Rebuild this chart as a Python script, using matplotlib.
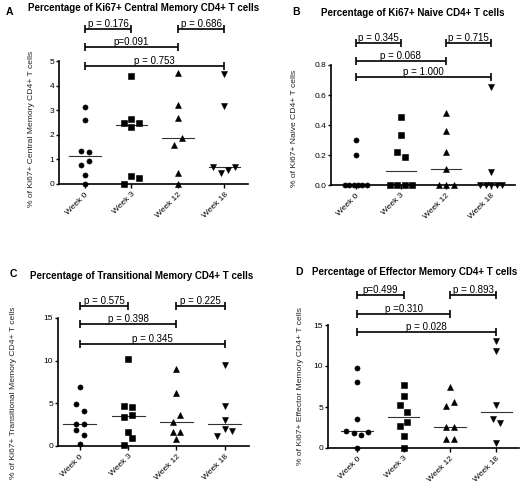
import numpy as np
import matplotlib
matplotlib.use('Agg')
import matplotlib.pyplot as plt

plt.rcParams['font.family'] = ['Liberation Sans', 'DejaVu Sans']

W, H = 523, 488

WEEKS = ['Week 0', 'Week 3', 'Week 12', 'Week 18']
MARKERS = ['o', 's', '^', 'v']

# A: % Ki67+ central memory CD4+ T cells
CM_W0 = [3.13, 2.60, 1.35, 1.31, 0.76, 0.95, 0.36, 0.0]
CM_W3 = [4.39, 2.66, 2.48, 2.31, 2.49, 0.02, 0.32, 0.26]
CM_W12 = [4.52, 3.23, 2.70, 1.58, 1.86, 0.43, 0.0]
CM_W18 = [4.47, 3.18, 0.68, 0.45, 0.57, 0.70]
CM_P = ['p = 0.176', 'p = 0.686', 'p=0.091', 'p = 0.753']
CM_P_Y = [6.29, 6.29, 5.58, 4.80]

# B: % Ki67+ naive CD4+ T cells
NV_W0 = [0.30, 0.20, 0.0, 0.0, 0.0, 0.0, 0.0, 0.0]
NV_W3 = [0.45, 0.33, 0.22, 0.19, 0.0, 0.0, 0.0, 0.0]
NV_W12 = [0.48, 0.36, 0.22, 0.11, 0.0, 0.0, 0.0]
NV_W18 = [0.65, 0.09, 0.0, 0.0, 0.0, 0.0, 0.0]
NV_P = ['p = 0.345', 'p = 0.715', 'p = 0.068', 'p = 1.000']
NV_P_Y = [0.945, 0.945, 0.827, 0.718]

# C: % Ki67+ transitional memory CD4+ T cells
TM_W0 = [6.86, 4.98, 4.11, 2.63, 2.63, 1.84, 1.34, 0.28]
TM_W3 = [10.16, 4.63, 4.60, 3.40, 3.65, 1.69, 0.12, 0.98]
TM_W12 = [8.98, 6.20, 2.84, 3.60, 1.69, 1.69, 0.78]
TM_W18 = [9.50, 4.70, 3.10, 1.20, 2.05, 1.70]
TM_P = ['p = 0.575', 'p = 0.225', 'p = 0.398', 'p = 0.345']
TM_P_Y = [16.38, 16.38, 14.3, 11.95]

# D: % Ki67+ effector memory CD4+ T cells
EM_W0 = [9.72, 8.05, 3.50, 2.10, 1.83, 1.59, 1.98, 0.0]
EM_W3 = [7.70, 6.40, 5.30, 4.45, 2.64, 3.20, 1.42, 0.0]
EM_W12 = [7.40, 5.16, 5.65, 2.60, 2.60, 1.10, 1.10]
EM_W18 = [13.10, 11.87, 5.20, 3.55, 3.00, 0.57]
EM_P = ['p=0.499', 'p = 0.893', 'p =0.310', 'p = 0.028']
EM_P_Y = [18.7, 18.7, 16.4, 14.2]

PAIRS = [(0, 1), (2, 3), (0, 2), (0, 3)]

panels = [
    dict(letter='A', title='Percentage of Ki67+ Central Memory CD4+ T cells',
         ylabel='% of Ki67+ Central Memory CD4+ T cells',
         groups=[CM_W0, CM_W3, CM_W12, CM_W18], pvals=CM_P, py=CM_P_Y,
         box=(59, 248, 184, 61), xlim=(-0.56, 3.51), ylim=(0, 5),
         yticks=[0, 1, 2, 3, 4, 5], yfmt='{:.0f}',
         title_xy=(144, 8), letter_xy=(9, 12), ylab_xy=(32, 129)),
    dict(letter='B', title='Percentage of Ki67+ Naive CD4+ T cells',
         ylabel='% of Ki67+ Naive CD4+ T cells',
         groups=[NV_W0, NV_W3, NV_W12, NV_W18], pvals=NV_P, py=NV_P_Y,
         box=(331, 515, 185, 65), xlim=(-0.55, 3.53), ylim=(0, 0.8),
         yticks=[0, 0.2, 0.4, 0.6, 0.8], yfmt='{:.1f}',
         title_xy=(413, 13), letter_xy=(296, 12), ylab_xy=(295, 128)),
    dict(letter='C', title='Percentage of Transitional Memory CD4+ T cells',
         ylabel='% of Ki67+ Transitional Memory CD4+ T cells',
         groups=[TM_W0, TM_W3, TM_W12, TM_W18], pvals=TM_P, py=TM_P_Y,
         box=(58, 249, 446, 318), xlim=(-0.45, 3.5), ylim=(0, 15),
         yticks=[0, 5, 10, 15], yfmt='{:.0f}',
         title_xy=(142, 276), letter_xy=(13, 274), ylab_xy=(14, 393)),
    dict(letter='D', title='Percentage of Effector Memory CD4+ T cells',
         ylabel='% of Ki67+ Effector Memory CD4+ T cells',
         groups=[EM_W0, EM_W3, EM_W12, EM_W18], pvals=EM_P, py=EM_P_Y,
         box=(328, 519, 448, 325), xlim=(-0.63, 3.49), ylim=(0, 15),
         yticks=[0, 5, 10, 15], yfmt='{:.0f}',
         title_xy=(415, 272), letter_xy=(299, 272), ylab_xy=(300, 386)),
]

MS = 3.7          # marker size (pt)
BIN_PX = 7.5      # points closer than this (px, vertically) share a row
STEP_PX = 7.5     # horizontal spacing inside a row
ROW_MAX_PX = 22   # widest a row may get


def scatter_offsets(vals, ppu_y, ppu_x):
    # GraphPad-ish column scatter: near-equal values go side by side in a row
    vals = np.asarray(vals, float)
    order = np.argsort(vals, kind='stable')
    rows, cur = [], [order[0]]
    for i in order[1:]:
        if (vals[i] - vals[cur[0]]) * ppu_y < BIN_PX:
            cur.append(i)
        else:
            rows.append(cur)
            cur = [i]
    rows.append(cur)
    offs = np.zeros(len(vals))
    for row in rows:
        n = len(row)
        if n == 1:
            continue
        step = min(STEP_PX, ROW_MAX_PX / (n - 1))
        for k, i in enumerate(sorted(row)):
            offs[i] = (k - (n - 1) / 2) * step / ppu_x
    return offs


fig = plt.figure(figsize=(W / 100, H / 100), dpi=100)

for p in panels:
    l, r, b, t = p['box']
    ax = fig.add_axes([l / W, 1 - b / H, (r - l) / W, (b - t) / H])
    ax.set_xlim(*p['xlim'])
    ax.set_ylim(*p['ylim'])
    ppu_x = (r - l) / (p['xlim'][1] - p['xlim'][0])
    ppu_y = (b - t) / (p['ylim'][1] - p['ylim'][0])

    for i, vals in enumerate(p['groups']):
        offs = scatter_offsets(vals, ppu_y, ppu_x)
        ax.plot(i + offs, vals, ls='none', marker=MARKERS[i], ms=MS, mew=0.4,
                color='black', clip_on=False, zorder=4)
        med = np.median(vals)
        ax.plot([i - 0.34, i + 0.34], [med, med], color='#333333', lw=0.8,
                clip_on=False, zorder=3)

    # significance brackets
    for (i, j), label, y in zip(PAIRS, p['pvals'], p['py']):
        ax.plot([i, j], [y, y], color='black', lw=1.2, marker='|', ms=6,
                mew=1.2, clip_on=False, solid_capstyle='butt')
        ax.text((i + j) / 2, y, label, ha='center', va='bottom', fontsize=7,
                clip_on=False)

    for s in ['top', 'right']:
        ax.spines[s].set_visible(False)
    for s in ['left', 'bottom']:
        ax.spines[s].set_linewidth(1.2)
    ax.set_xticks(range(4))
    ax.set_xticklabels(WEEKS, rotation=45, ha='right', rotation_mode='anchor',
                       fontsize=6)
    ax.set_yticks(p['yticks'])
    ax.set_yticklabels([p['yfmt'].format(v) for v in p['yticks']], fontsize=6)
    ax.tick_params(axis='y', length=2.5, width=1.0, pad=1)
    ax.tick_params(axis='x', length=3, width=1.0, pad=2)
    ax.patch.set_visible(False)

    fig.text(p['ylab_xy'][0] / W, 1 - p['ylab_xy'][1] / H, p['ylabel'],
             rotation=90, ha='center', va='center', fontsize=6.1, color='#222222')
    fig.text(p['title_xy'][0] / W, 1 - p['title_xy'][1] / H, p['title'],
             ha='center', va='center', fontsize=7, fontweight='bold')
    fig.text(p['letter_xy'][0] / W, 1 - p['letter_xy'][1] / H, p['letter'],
             ha='center', va='center', fontsize=7.5, fontweight='bold')

fig.savefig('out.png', dpi=100)
